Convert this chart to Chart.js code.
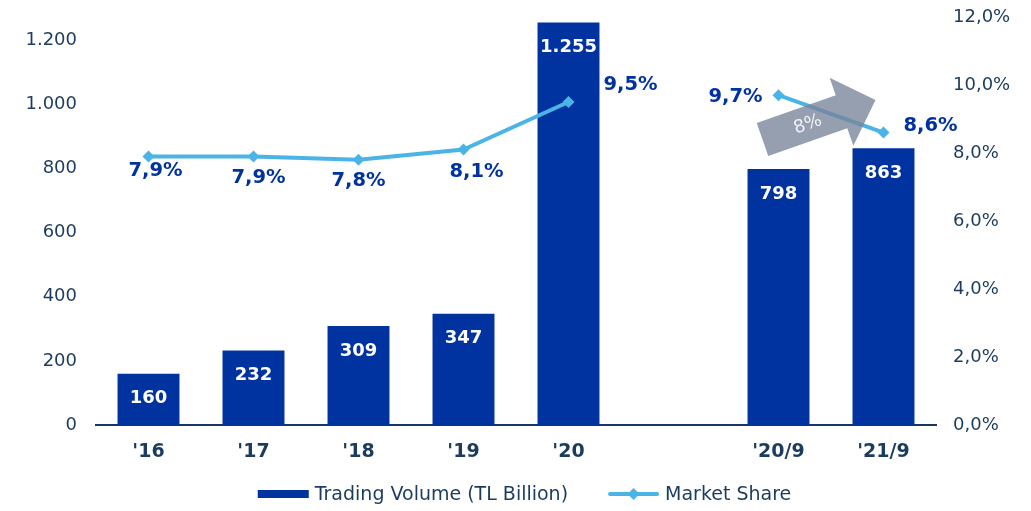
<!DOCTYPE html>
<html>
<head>
<meta charset="utf-8">
<script src="https://cdn.jsdelivr.net/npm/chart.js@4.4.0/dist/chart.umd.min.js"></script>
<style>
  html, body { margin: 0; padding: 0; background: #fff; }
  #wrap { width: 1031px; height: 511px; position: relative; }
</style>
</head>
<body>
<div id="wrap"><canvas id="chart"></canvas></div>
<script>
// data
const categories = ["'16", "'17", "'18", "'19", "'20", "", "'20/9", "'21/9"];
const tradingVolume = [160, 232, 309, 347, 1255, null, 798, 863];
const marketShare = [7.9, 7.9, 7.8, 8.1, 9.5, null, 9.7, 8.6];
const volumeTicks = [0, 200, 400, 600, 800, 1000, 1200];
const arrowText = '8%';

const NAVY = '#1b3b5f';
const BAR = '#0033a0';
const LINE = '#4bb4e6';
const FONT = '"DejaVu Sans", Verdana, sans-serif';

// label offsets for the market share values (dx, dy from the point)
const shareLabelOffsets = [[7, 15], [5, 22], [0, 21], [13, 22], [62, -17], null, [-43, 2], [47, -7]];

function fmtThousands(v) {
    return String(v).replace(/\B(?=(\d{3})+(?!\d))/g, '.');
}
function fmtPct(v) {
    return v.toFixed(1).replace('.', ',') + '%';
}

const valueLabels = {
    id: 'valueLabels',
    afterDatasetsDraw(chart) {
        const ctx = chart.ctx;
        ctx.save();
        ctx.textAlign = 'center';
        ctx.textBaseline = 'middle';

        // bars: white labels inside the top
        ctx.font = 'bold 18px ' + FONT;
        ctx.fillStyle = '#ffffff';
        chart.getDatasetMeta(1).data.forEach((bar, i) => {
            if (tradingVolume[i] == null) return;
            ctx.fillText(fmtThousands(tradingVolume[i]), bar.x, bar.y + 25);
        });

        // line: blue labels
        ctx.font = 'bold 19.5px ' + FONT;
        ctx.fillStyle = BAR;
        chart.getDatasetMeta(0).data.forEach((pt, i) => {
            if (marketShare[i] == null) return;
            const off = shareLabelOffsets[i];
            ctx.fillText(fmtPct(marketShare[i]), pt.x + off[0], pt.y + off[1]);
        });
        ctx.restore();
    }
};

// grey growth arrow between '20/9 and '21/9
const growthArrow = {
    id: 'growthArrow',
    afterDatasetsDraw(chart) {
        const x = chart.scales.x, y1 = chart.scales.y1;
        const x0 = x.getPixelForValue(6) - 16, yA = y1.getPixelForValue(8.4);
        const x1 = x.getPixelForValue(7) - 8, yB = y1.getPixelForValue(9.56);
        const len = Math.hypot(x1 - x0, yB - yA);
        const ang = Math.atan2(yB - yA, x1 - x0);
        const shaft = 35, head = 72, headLen = 36;
        const ctx = chart.ctx;
        ctx.save();
        ctx.translate(x0, yA);
        ctx.rotate(ang);
        ctx.fillStyle = 'rgba(120,132,152,0.78)';
        ctx.beginPath();
        ctx.moveTo(0, -shaft / 2);
        ctx.lineTo(len - headLen, -shaft / 2);
        ctx.lineTo(len - headLen, -head / 2);
        ctx.lineTo(len, 0);
        ctx.lineTo(len - headLen, head / 2);
        ctx.lineTo(len - headLen, shaft / 2);
        ctx.lineTo(0, shaft / 2);
        ctx.closePath();
        ctx.fill();
        ctx.fillStyle = '#eef1f5';
        ctx.font = '18px ' + FONT;
        ctx.textAlign = 'center';
        ctx.textBaseline = 'middle';
        ctx.fillText(arrowText, (len - headLen) / 2 + 6, 1);
        ctx.restore();
    }
};

// bottom legend: bar box, then line with diamond
const bottomLegend = {
    id: 'bottomLegend',
    afterDraw(chart) {
        const ctx = chart.ctx;
        const order = [1, 0];
        const symW = 51, symGap = 6, itemGap = 40;
        ctx.save();
        ctx.font = '19px ' + FONT;
        ctx.textBaseline = 'middle';
        ctx.textAlign = 'left';
        const widths = order.map(i => ctx.measureText(chart.data.datasets[i].label).width);
        const total = widths.reduce((a, w) => a + symW + symGap + w, 0) + itemGap * (order.length - 1);
        let x = chart.width / 2 + 9 - total / 2;
        const y = chart.height - 17;
        order.forEach((i, k) => {
            const ds = chart.data.datasets[i];
            if (ds.type === 'bar') {
                ctx.fillStyle = ds.backgroundColor;
                ctx.fillRect(x, y - 4, symW, 8);
            } else {
                ctx.strokeStyle = ds.borderColor;
                ctx.lineWidth = 4;
                ctx.lineCap = 'round';
                ctx.beginPath();
                ctx.moveTo(x + 2, y); ctx.lineTo(x + symW - 2, y);
                ctx.stroke();
                const cx = x + symW / 2;
                ctx.fillStyle = ds.borderColor;
                ctx.beginPath();
                ctx.moveTo(cx, y - 6); ctx.lineTo(cx + 6, y); ctx.lineTo(cx, y + 6); ctx.lineTo(cx - 6, y);
                ctx.closePath();
                ctx.fill();
            }
            ctx.fillStyle = NAVY;
            ctx.fillText(ds.label, x + symW + symGap, y + 1);
            x += symW + symGap + widths[k] + itemGap;
        });
        ctx.restore();
    }
};

function noEdgePadding(scale) {
    scale.paddingTop = 0;
    scale.paddingBottom = 0;
}

new Chart(document.getElementById('chart'), {
    data: {
        labels: categories,
        datasets: [
            {
                type: 'line',
                label: 'Market Share',
                data: marketShare,
                yAxisID: 'y1',
                borderColor: LINE,
                backgroundColor: LINE,
                borderWidth: 4,
                pointStyle: 'rectRot',
                pointRadius: 6,
                pointBackgroundColor: LINE,
                pointBorderWidth: 0,
                spanGaps: false,
                order: 0
            },
            {
                type: 'bar',
                label: 'Trading Volume (TL Billion)',
                data: tradingVolume,
                yAxisID: 'y',
                backgroundColor: BAR,
                categoryPercentage: 1,
                barPercentage: 0.59,
                order: 1
            }
        ]
    },
    options: {
        responsive: true,
        maintainAspectRatio: false,
        animation: false,
        layout: { padding: { top: 17, bottom: 46, left: 0, right: 0 } },
        plugins: {
            legend: { display: false },
            tooltip: { enabled: false }
        },
        scales: {
            x: {
                grid: { display: false, drawTicks: false },
                border: { display: true, color: '#17375e', width: 2 },
                ticks: {
                    color: NAVY,
                    padding: 16,
                    font: { family: FONT, size: 19, weight: 'bold' }
                },
                afterFit(scale) { scale.height = 40; }
            },
            y: {
                position: 'left',
                min: 0,
                max: 1272,
                grid: { display: false, drawTicks: false },
                border: { display: false },
                afterBuildTicks(scale) {
                    scale.ticks = volumeTicks.map(v => ({ value: v }));
                },
                ticks: {
                    color: NAVY,
                    padding: 19,
                    font: { family: FONT, size: 18 },
                    callback: v => fmtThousands(v)
                },
                afterFit(scale) { scale.width = 96; noEdgePadding(scale); }
            },
            y1: {
                position: 'right',
                min: 0,
                max: 12,
                grid: { display: false, drawTicks: false },
                border: { display: false },
                ticks: {
                    stepSize: 2,
                    color: NAVY,
                    padding: 17,
                    font: { family: FONT, size: 18 },
                    callback: v => fmtPct(v)
                },
                afterFit(scale) { scale.width = 95; noEdgePadding(scale); }
            }
        }
    },
    plugins: [growthArrow, valueLabels, bottomLegend]
});
</script>
</body>
</html>
